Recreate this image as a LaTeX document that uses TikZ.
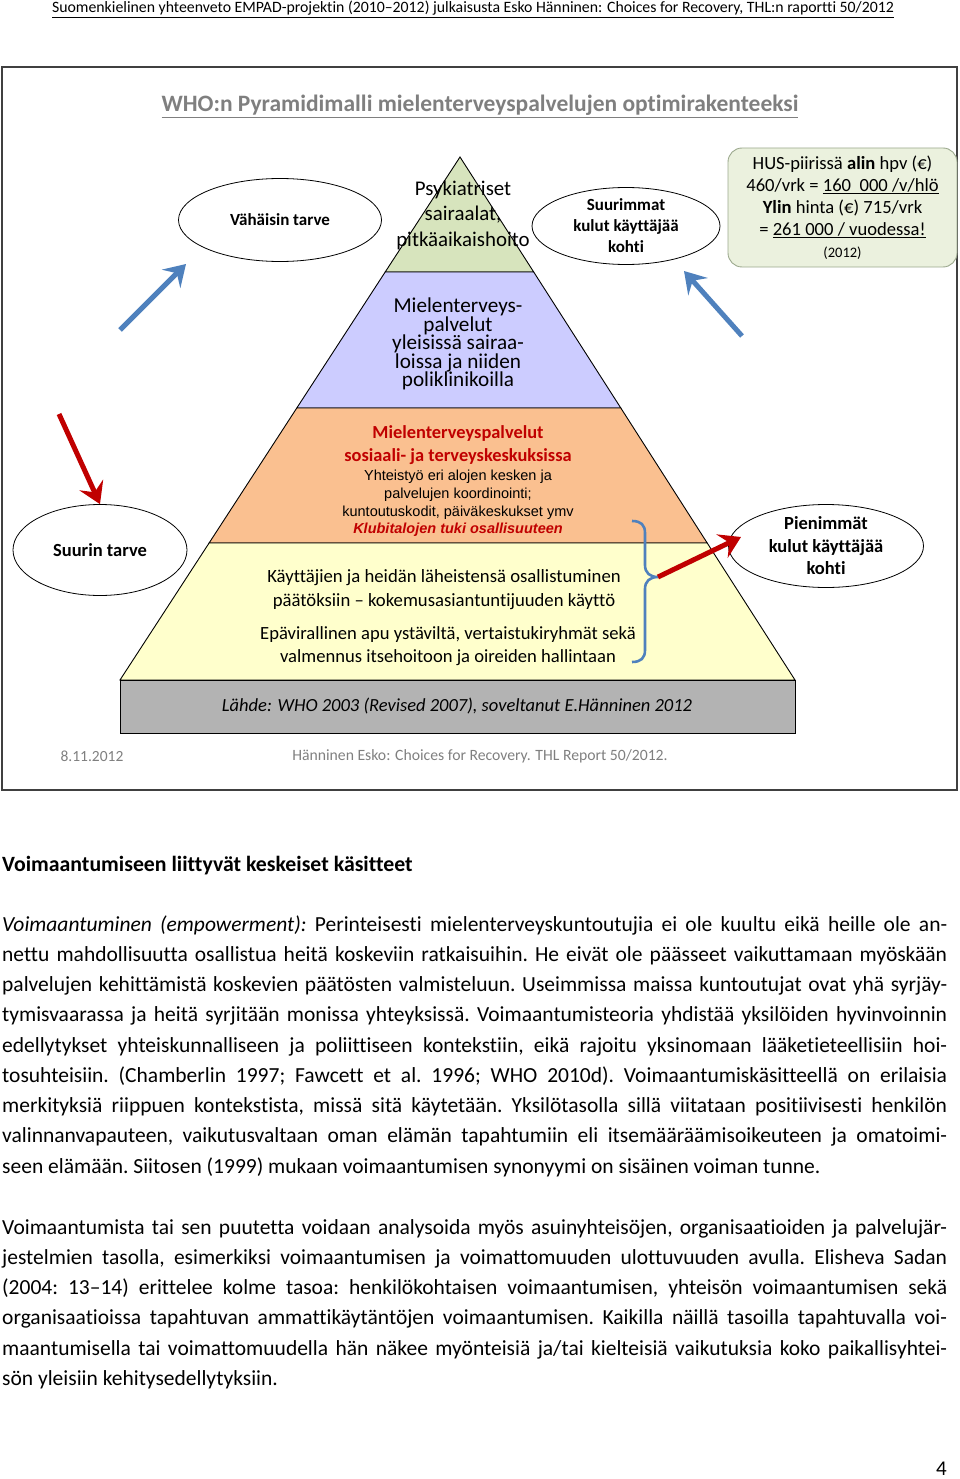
\documentclass[tikz,border=0pt]{standalone}
\usepackage{fontspec}
\setmainfont{Carlito}[Ligatures={TeX,NoCommon}]
\newfontfamily\arialfont{Liberation Sans}[Ligatures={TeX,NoCommon}]
\usetikzlibrary{arrows.meta,positioning,shapes.geometric,calc}
\definecolor{laygreen}{HTML}{D7E4BD}
\definecolor{layblue}{HTML}{CCCCFF}
\definecolor{layorange}{HTML}{FAC090}
\definecolor{layyellow}{HTML}{FFFFCC}
\definecolor{laygray}{HTML}{B3B3B3}
\definecolor{husfill}{HTML}{EBF1DE}
\definecolor{husline}{HTML}{9BA88D}
\definecolor{arrblue}{HTML}{4F81BD}
\definecolor{arrred}{HTML}{C00000}
\definecolor{titlegray}{HTML}{7F7F7F}
\newcommand\fsz[2]{\fontsize{#1}{#2}\selectfont}
\tikzset{lay/.style={draw=black,line width=0.9pt},
 oval/.style={ellipse,draw=black,line width=0.8pt,fill=white,inner sep=0pt,align=center},
 txt/.style={align=center,inner sep=0pt},
 bluearrow/.style={draw=arrblue,line width=5pt,-{Stealth[length=21pt,width=26pt,inset=8pt]}},
 redarrow/.style={draw=arrred,line width=5pt,-{Stealth[length=21pt,width=26pt,inset=8pt]}},
 bracel/.style={draw=arrblue,line width=2.6pt},
 para/.style={anchor=base west,inner sep=0pt,text width=945pt,align=justify,font=\fsz{21.5}{30.25}\frenchspacing}}
\begin{document}
\begin{tikzpicture}[x=1pt,y=-1pt]
\useasboundingbox (0,0) rectangle (960,1479);
\node[txt,anchor=base,font=\fsz{15.8}{18}] (head) at (473,13) {\underline{Suomenkielinen yhteenveto EMPAD-projektin (2010--2012) julkaisusta Esko Hänninen: Choices for Recovery, THL:n raportti 50/2012}};
% slide frame
\draw[black!75,line width=1.2pt] (2,67) rectangle (957,790);
\node[txt,anchor=base,text=titlegray,font=\fsz{23.5}{26}\bfseries] (title) at (480,112) {\underline{WHO:n Pyramidimalli mielenterveyspalvelujen optimirakenteeksi}};
% pyramid
\coordinate (apex) at (460,157);
\filldraw[lay,fill=laygreen] (apex) -- (533.7,272) -- (385.2,272) -- cycle;
\filldraw[lay,fill=layblue] (385.2,272) -- (533.7,272) -- (620.8,408) -- (296.8,408) -- cycle;
\filldraw[lay,fill=layorange] (296.8,408) -- (620.8,408) -- (707.2,543) -- (209.1,543) -- cycle;
\filldraw[lay,fill=layyellow] (209.1,543) -- (707.2,543) -- (795,680) -- (120,680) -- cycle;
\filldraw[lay,fill=laygray] (120,680) rectangle (795,733);
\node[txt,font=\fsz{20.9}{25.5}] (psyk) at (463,215) {Psykiatriset\\sairaalat,\\pitkäaikaishoito};
\node[txt,font=\fsz{21.2}{18.5}] (yleis) at (458,344) {Mielenterveys-\\palvelut\\yleisissä sairaa-\\loissa ja niiden\\poliklinikoilla};
\node[txt,text=arrred,font=\fsz{18.4}{23}\bfseries] (sostk) at (458,445.5) {Mielenterveyspalvelut\\sosiaali- ja terveyskeskuksissa};
\node[txt,font=\fsz{14.5}{17.7}\arialfont] (yhteis) at (458,503.5) {Yhteistyö eri alojen kesken ja\\palvelujen koordinointi;\\kuntoutuskodit, päiväkeskukset ymv\\\textcolor{arrred}{\bfseries\itshape Klubitalojen tuki osallisuuteen}};
\node[txt,font=\fsz{18.7}{24}] (kaytt) at (444,590) {Käyttäjien ja heidän läheistensä osallistuminen\\päätöksiin -- kokemusasiantuntijuuden käyttö};
\node[txt,font=\fsz{18.6}{23}] (epav) at (448,646.5) {Epävirallinen apu ystäviltä, vertaistukiryhmät sekä\\valmennus itsehoitoon ja oireiden hallintaan};
\node[txt,font=\fsz{18.5}{21}\itshape] (lahde) at (457,706) {Lähde: WHO 2003 (Revised 2007), soveltanut E.Hänninen 2012};
% ovals and cost box
\node[oval,minimum width=203pt,minimum height=83pt,font=\fsz{17}{20}\bfseries] (vahain) at (280,220) {Vähäisin tarve};
\node[oval,minimum width=188pt,minimum height=77pt,font=\fsz{17}{21}\bfseries] (suurim) at (626,226) {Suurimmat\\kulut käyttäjää\\kohti};
\node[oval,minimum width=174pt,minimum height=91pt,font=\fsz{18.5}{20}\bfseries] (suurin) at (100,550) {Suurin tarve};
\node[oval,minimum width=195pt,minimum height=83pt,font=\fsz{18.5}{22.5}\bfseries] (pien) at (826,546) {Pienimmät\\kulut käyttäjää\\kohti};
\node[txt,draw=husline,line width=0.9pt,fill=husfill,rounded corners=14pt,minimum width=229pt,minimum height=119pt,font=\fsz{18.6}{22}] (hus) at (842.5,207.5) {HUS-piirissä \textbf{alin} hpv (€)\\460/vrk = \underline{160\ \ 000 /v/hlö}\\\textbf{Ylin} hinta (€) 715/vrk\\= \underline{261 000 / vuodessa!}\\{\fsz{14.5}{17}(2012)}};
% arrows
\coordinate (btail1) at (120,330);
\coordinate (bhead1) at (186,264);
\coordinate (btail2) at (742,336);
\coordinate (bhead2) at (684,271);
\coordinate (rtail) at (59,414);
\coordinate (brtip) at (658,577);
\coordinate (rhead) at (741,537);
\draw[bluearrow] (btail1) -- (bhead1);
\draw[bluearrow] (btail2) -- (bhead2);
\draw[redarrow] (rtail) -- (suurin.north);
\draw[bracel] (632,521) .. controls (641,521) and (645,525) .. (645,533) -- (645,565) .. controls (645,573) and (650,577) .. (brtip) .. controls (650,577) and (645,581) .. (645,589) -- (645,650) .. controls (645,658) and (641,662) .. (632,662);
\draw[redarrow] (brtip) -- (rhead);
% slide footer
\node[txt,text=titlegray,font=\fsz{15.5}{17}] (date) at (92,756) {8.11.2012};
\node[txt,text=titlegray,font=\fsz{15.7}{17}] (footref) at (480,756) {Hänninen Esko: Choices for Recovery. THL Report 50/2012.};
% text of the page
\node[anchor=base west,inner sep=0pt,font=\fsz{21.8}{25}\bfseries] (heading) at (2,871) {Voimaantumiseen liittyvät keskeiset käsitteet};
\node[para] (par1) at (2,931) {\textit{Voimaantuminen (empowerment):} Perinteisesti mielenterveyskuntoutujia ei ole kuultu eikä heille ole an-\linebreak nettu mahdollisuutta osallistua heitä koskeviin ratkaisuihin. He eivät ole päässeet vaikuttamaan myöskään\linebreak palvelujen kehittämistä koskevien päätösten valmisteluun. Useimmissa maissa kuntoutujat ovat yhä syrjäy-\linebreak tymisvaarassa ja heitä syrjitään monissa yhteyksissä. Voimaantumisteoria yhdistää yksilöiden hyvinvoinnin\linebreak edellytykset yhteiskunnalliseen ja poliittiseen kontekstiin, eikä rajoitu yksinomaan lääketieteellisiin hoi-\linebreak tosuhteisiin. (Chamberlin 1997; Fawcett et al. 1996; WHO 2010d). Voimaantumiskäsitteellä on erilaisia\linebreak merkityksiä riippuen kontekstista, missä sitä käytetään. Yksilötasolla sillä viitataan positiivisesti henkilön\linebreak valinnanvapauteen, vaikutusvaltaan oman elämän tapahtumiin eli itsemääräämisoikeuteen ja omatoimi-\linebreak seen elämään. Siitosen (1999) mukaan voimaantumisen synonyymi on sisäinen voiman tunne.};
\node[para] (par2) at (2,1234) {Voimaantumista tai sen puutetta voidaan analysoida myös asuinyhteisöjen, organisaatioiden ja palvelujär-\linebreak jestelmien tasolla, esimerkiksi voimaantumisen ja voimattomuuden ulottuvuuden avulla. Elisheva Sadan\linebreak (2004: 13--14) erittelee kolme tasoa: henkilökohtaisen voimaantumisen, yhteisön voimaantumisen sekä\linebreak organisaatioissa tapahtuvan ammattikäytäntöjen voimaantumisen. Kaikilla näillä tasoilla tapahtuvalla voi-\linebreak maantumisella tai voimattomuudella hän näkee myönteisiä ja/tai kielteisiä vaikutuksia koko paikallisyhtei-\linebreak sön yleisiin kehitysedellytyksiin.};
\node[anchor=base east,inner sep=0pt,font=\fsz{21}{25}] (pageno) at (947,1475) {4};
\end{tikzpicture}
\end{document}
